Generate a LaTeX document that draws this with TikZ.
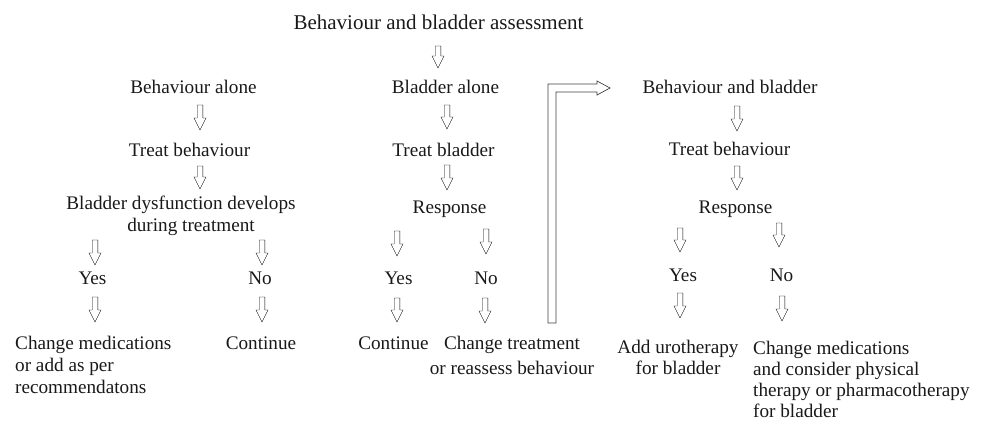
\documentclass[tikz,border=0pt]{standalone}
\usepackage{fontspec}
\setmainfont{Liberation Serif}
\newfontfamily\bodyfont{Liberation Serif}
\usetikzlibrary{calc}
\begin{document}
\begin{tikzpicture}[x=1pt,y=-1pt,
  txt/.style={inner sep=0pt, anchor=base, font=\bodyfont\fontsize{19.2}{21.5}\selectfont, text=black!90},
  ltxt/.style={txt, anchor=base west, align=left},
  blk/.style={draw=black!75, line width=0.7pt, fill=white,
    to path={let \p1=(\tikztostart), \p2=(\tikztotarget) in
      (\x1-2.8pt,\y1) -- (\x1-2.8pt,\y2+12pt) -- (\x1-6pt,\y2+12pt) -- (\x1,\y2)
      -- (\x1+6pt,\y2+12pt) -- (\x1+2.8pt,\y2+12pt) -- (\x1+2.8pt,\y1) -- cycle}},
  bigarrow/.style={draw=black!75, line width=0.7pt, fill=white}
]
\useasboundingbox (0,0) rectangle (983,421);

% title
\node[txt, font=\bodyfont\fontsize{21}{24}\selectfont] (title) at (438.5,29) {Behaviour and bladder assessment};
\coordinate (a0s) at (438,46); \coordinate (a0e) at (438,68);
\draw (a0s) to[blk] (a0e);

% column 1 (multi-line nodes: base = last line's baseline)
\node[txt] (b1) at (193.5,93.5) {Behaviour alone};
\node[txt] (t1) at (189.5,156.5) {Treat behaviour};
\node[txt, align=center, font=\bodyfont\fontsize{19.2}{22}\selectfont] (d1) at (181,231.5) {Bladder dysfunction develops\\\hspace*{20pt}during treatment};
\node[txt] (y1) at (92.5,284.5) {Yes};
\node[txt] (n1) at (260,284.5) {No};
\node[ltxt, font=\bodyfont\fontsize{19.2}{22}\selectfont] (c1) at (15,393.5) {Change medications\\or add as per\\recommendatons};
\node[txt] (k1) at (261,349.5) {Continue};

\coordinate (a1s) at (200,105); \coordinate (a1e) at (200,130);
\coordinate (a2s) at (200,166); \coordinate (a2e) at (200,189);
\coordinate (a3s) at (95,240);  \coordinate (a3e) at (95,265);
\coordinate (a4s) at (262,240); \coordinate (a4e) at (262,265);
\coordinate (a5s) at (95,297);  \coordinate (a5e) at (95,322);
\coordinate (a6s) at (262,297); \coordinate (a6e) at (262,322);
\foreach \i in {1,...,6} \draw (a\i s) to[blk] (a\i e);

% column 2
\node[txt] (b2) at (445.5,93.5) {Bladder alone};
\node[txt] (t2) at (443.5,156.5) {Treat bladder};
\node[txt] (r2) at (449.5,213.5) {Response};
\node[txt] (y2) at (398.5,284.5) {Yes};
\node[txt] (n2) at (486,284.5) {No};
\node[txt] (k2) at (393.5,349.5) {Continue};
\node[txt, align=center, font=\bodyfont\fontsize{19.2}{25}\selectfont] (c2) at (512,374.5) {Change treatment\\or reassess behaviour};

\coordinate (b1s) at (447,105); \coordinate (b1e) at (447,129);
\coordinate (b2s) at (447,165); \coordinate (b2e) at (447,190);
\coordinate (b3s) at (397,231); \coordinate (b3e) at (397,256);
\coordinate (b4s) at (486,229); \coordinate (b4e) at (486,254);
\coordinate (b5s) at (397,298); \coordinate (b5e) at (397,322);
\coordinate (b6s) at (485,298); \coordinate (b6e) at (485,323);
\foreach \i in {1,...,6} \draw (b\i s) to[blk] (b\i e);

% big double arrow
\coordinate (gS) at (552,323);
\coordinate (gE) at (610,88);
\draw[bigarrow] (548,323) -- (548,84) -- (597,84) -- (597,81) -- (gE) -- (597,95)
  -- (597,92) -- (556,92) -- (556,323) -- cycle;

% column 3
\node[txt] (b3) at (730,93.5) {Behaviour and bladder};
\node[txt] (t3) at (729.5,155.5) {Treat behaviour};
\node[txt] (r3) at (735.5,213.5) {Response};
\node[txt] (y3) at (683,281.5) {Yes};
\node[txt] (n3) at (781.5,281.5) {No};
\node[txt, align=center, font=\bodyfont\fontsize{19.2}{20.5}\selectfont] (c3) at (678,374) {Add urotherapy\\for bladder};
\node[ltxt, font=\bodyfont\fontsize{19.2}{21}\selectfont] (k3) at (753,417) {Change medications\\and consider physical\\therapy or pharmacotherapy\\for bladder};

\coordinate (c1s) at (737,106); \coordinate (c1e) at (737,131);
\coordinate (c2s) at (737,166); \coordinate (c2e) at (737,190);
\coordinate (c3s) at (680,228); \coordinate (c3e) at (680,252);
\coordinate (c4s) at (779,223); \coordinate (c4e) at (779,247);
\coordinate (c5s) at (680,293); \coordinate (c5e) at (680,318);
\coordinate (c6s) at (782,296); \coordinate (c6e) at (782,321);
\foreach \i in {1,...,6} \draw (c\i s) to[blk] (c\i e);
\end{tikzpicture}
\end{document}
